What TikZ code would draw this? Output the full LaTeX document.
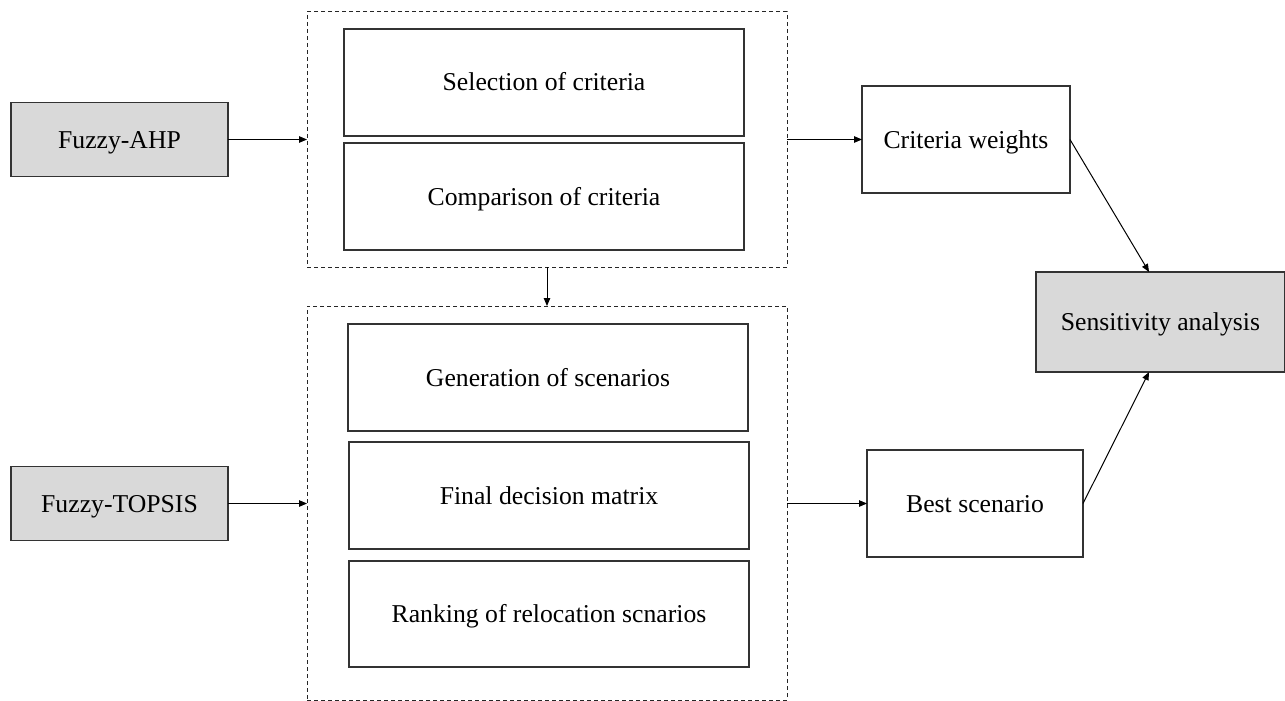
\documentclass[tikz,border=0pt]{standalone}
\usepackage{fontspec}
\setmainfont{Liberation Serif}
\usetikzlibrary{arrows.meta,calc}
\begin{document}
\begin{tikzpicture}[x=1pt,y=-1pt,
  box/.style={draw=black!80,line width=1.2pt,inner sep=0pt,outer sep=0pt,text height=17pt,text depth=0pt,font=\fontsize{25.7}{30}\selectfont},
  graybox/.style={box,fill=black!15},
  dbox/.style={draw=black!85,line width=1pt,dash pattern=on 4pt off 3pt,inner sep=0pt,outer sep=0pt},
  arr/.style={line width=1pt,-{Triangle[length=8pt,width=6.5pt]}}]
\useasboundingbox (0,0) rectangle (1285,701);
% dashed groups
\node[dbox,minimum width=480,minimum height=255] (g1) at (547,139.5) {};
\node[dbox,minimum width=480,minimum height=394] (g2) at (547,503) {};
% inner boxes
\node[box,minimum width=400,minimum height=107] (sel) at (544,82.5) {Selection of criteria};
\node[box,minimum width=400,minimum height=107] (cmp) at (544,196.5) {Comparison of criteria};
\node[box,minimum width=400,minimum height=107] (gen) at (548,377.5) {Generation of scenarios};
\node[box,minimum width=400,minimum height=107] (fdm) at (549,495.5) {Final decision matrix};
\node[box,minimum width=400,minimum height=106] (rank) at (549,614) {Ranking of relocation scnarios};
% left methods
\node[graybox,minimum width=217,minimum height=74] (ahp) at (119.5,139.5) {Fuzzy-AHP};
\node[graybox,minimum width=217,minimum height=74] (top) at (119.5,503.5) {Fuzzy-TOPSIS};
% right
\node[box,minimum width=208,minimum height=107] (cw) at (966,139.5) {Criteria weights};
\node[box,minimum width=216,minimum height=107] (bs) at (975,503.5) {Best scenario};
\node[graybox,minimum width=249,minimum height=100] (sa) at (1160.5,322) {Sensitivity analysis};
% connectors
\draw[arr] (ahp.east) -- (ahp.east -| g1.west);
\draw[arr] (top.east) -- (top.east -| g2.west);
\draw[arr] (g1.south) -- (g2.north);
\draw[arr] (g1.east |- cw.west) -- (cw.west);
\draw[arr] (g2.east |- bs.west) -- (bs.west);
\draw[arr] (cw.east) -- ($(sa.north west)!0.454!(sa.north east)$);
\draw[arr] (bs.east) -- ($(sa.south west)!0.454!(sa.south east)$);
\end{tikzpicture}
\end{document}
